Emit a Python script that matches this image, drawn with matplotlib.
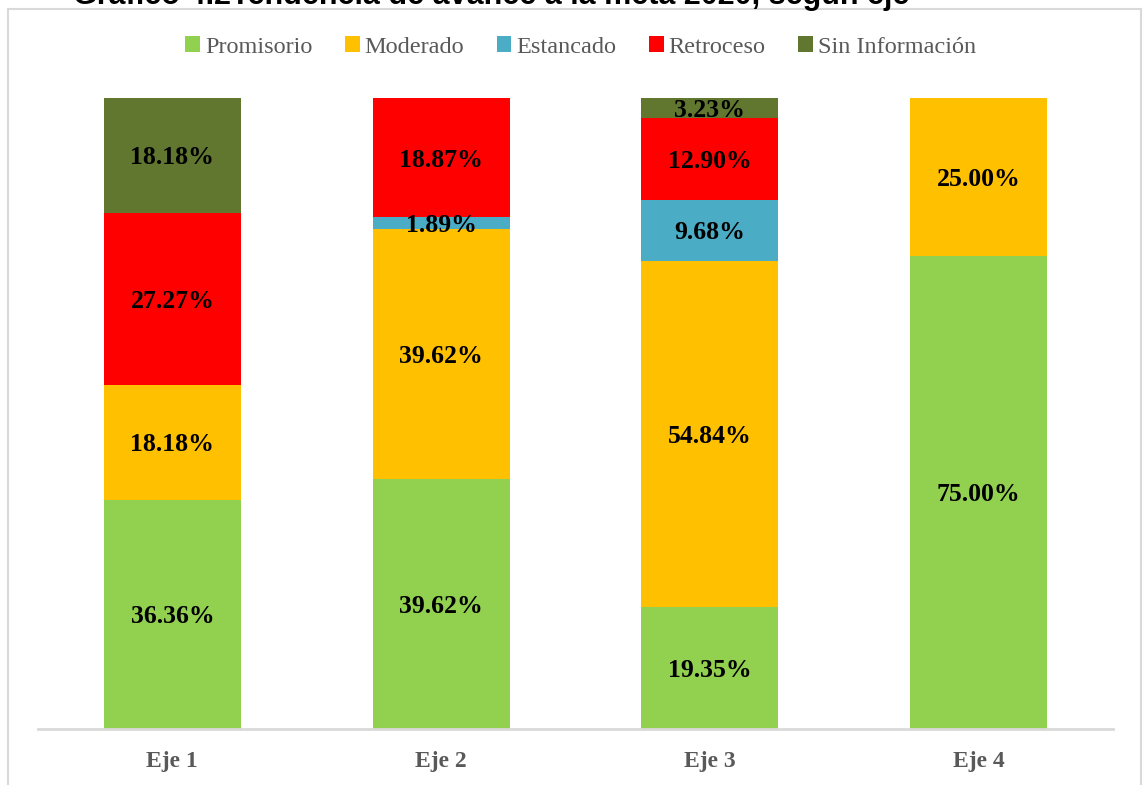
#!/usr/bin/env python3
import matplotlib
matplotlib.use("Agg")
import matplotlib.pyplot as plt
from matplotlib.patches import Rectangle
import numpy as np

title = "Gráfico 4.2Tendencia de avance a la meta 2020, según eje"
ejes = ["Eje 1", "Eje 2", "Eje 3", "Eje 4"]
series = ["Promisorio", "Moderado", "Estancado", "Retroceso", "Sin Información"]
colors = ["#92D050", "#FFC000", "#4BACC6", "#FF0000", "#61762F"]

promisorio = [36.36, 39.62, 19.35, 75.00]
moderado = [18.18, 39.62, 54.84, 25.00]
estancado = [0.00, 1.89, 9.68, 0.00]
retroceso = [27.27, 18.87, 12.90, 0.00]
sin_info = [18.18, 0.00, 3.23, 0.00]

values = [promisorio, moderado, estancado, retroceso, sin_info]

W, H = 1143, 785
fig = plt.figure(figsize=(W / 100, H / 100), dpi=100)
ax = fig.add_axes([38 / W, 1 - 729 / H, 1075 / W, 631 / H])

x = np.arange(len(ejes))
bottom = np.zeros(len(ejes))
for name, vals, color in zip(series, values, colors):
    vals = np.array(vals)
    ax.bar(x, vals, 0.51, bottom=bottom, color=color, label=name, zorder=2)
    for xi, b, v in zip(x, bottom, vals):
        if v > 0:
            ax.text(xi, b + v / 2, f"{v:.2f}%", ha="center", va="center_baseline",
                    fontsize=18.5, fontweight="bold", family="Liberation Serif",
                    color="black", zorder=3)
    bottom += vals

ax.set_xlim(-0.5, 3.5)
ax.set_ylim(0, 100)
ax.set_yticks([])
ax.set_xticks(x)
ax.set_xticklabels(ejes, fontsize=17, fontweight="bold", family="Liberation Serif",
                   color="#595959")
ax.tick_params(axis="x", length=0, pad=16)
for side in ["top", "right", "left"]:
    ax.spines[side].set_visible(False)
ax.spines["bottom"].set_color("#D9D9D9")
ax.spines["bottom"].set_linewidth(2)
ax.spines["bottom"].set_zorder(4)

fig.legend(loc="center", bbox_to_anchor=(0.508, 1 - 47 / H), ncol=5, frameon=False,
           prop={"family": "Liberation Serif", "size": 17.5},
           labelcolor="#595959", handlelength=0.6, handleheight=0.6,
           handletextpad=0.2, columnspacing=1.35)

fig.patches.append(Rectangle((8 / W, -0.05), 1133 / W, 1.05 - 9 / H,
                             transform=fig.transFigure, fill=False,
                             edgecolor="#D9D9D9", linewidth=1.5))

fig.text(73 / W, 1 - 4 / H, title, ha="left", va="baseline", fontsize=22,
         fontweight="bold", family="Liberation Sans", color="black")

fig.savefig("out.png", dpi=100)
